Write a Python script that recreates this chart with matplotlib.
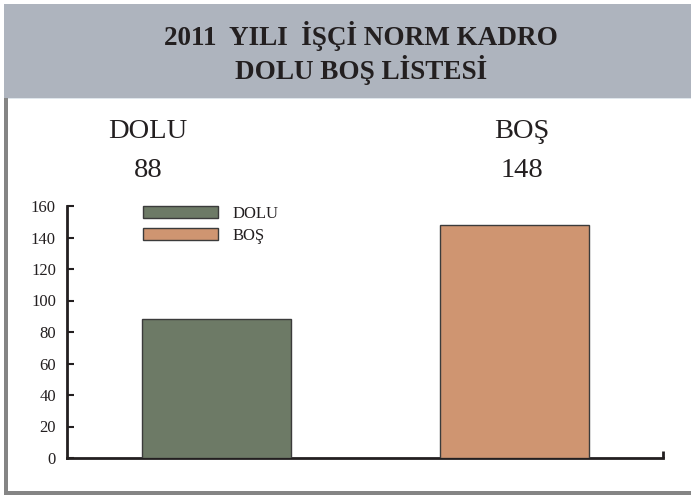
import matplotlib
matplotlib.use("Agg")
import matplotlib.pyplot as plt
from matplotlib.patches import Rectangle

categories = ["DOLU", "BOŞ"]
values = [88, 148]
bar_colors = ["#6d7a66", "#cf9571"]
yticks = [0, 20, 40, 60, 80, 100, 120, 140, 160]
title_lines = ["2011  YILI  İŞÇİ NORM KADRO", "DOLU BOŞ LİSTESİ"]

W, H = 691, 496
fig = plt.figure(figsize=(W / 100, H / 100), dpi=100)
fig.patch.set_facecolor("white")

def fx(px):
    return px / W

def fy(py):
    return 1 - py / H

serif = ["Liberation Serif", "DejaVu Serif"]

# header band
fig.patches.append(Rectangle((fx(4), fy(98)), 1 - fx(4), fy(4) - fy(98),
                             transform=fig.transFigure, facecolor="#aeb4be",
                             edgecolor="none", zorder=0))
fig.patches.append(Rectangle((fx(4), fy(99)), 1 - fx(4), fy(98) - fy(99),
                             transform=fig.transFigure, facecolor="#dfe6ec",
                             edgecolor="none", zorder=0))
# left border
fig.patches.append(Rectangle((fx(4), fy(495)), fx(8) - fx(4), fy(98) - fy(495),
                             transform=fig.transFigure, facecolor="#858585",
                             edgecolor="none", zorder=0))
# bottom border
fig.patches.append(Rectangle((fx(4), fy(495)), 1 - fx(4), fy(491) - fy(495),
                             transform=fig.transFigure, facecolor="#858585",
                             edgecolor="none", zorder=0))

fig.text(fx(361), fy(36), title_lines[0], ha="center", va="center",
         fontsize=19.5, fontweight="bold", family=serif, color="#231f20")
fig.text(fx(361), fy(70), title_lines[1], ha="center", va="center",
         fontsize=19.5, fontweight="bold", family=serif, color="#231f20")

# category labels and values above plot
label_x = [148, 522]
for cx, cat, val in zip(label_x, categories, values):
    fig.text(fx(cx), fy(138), cat, ha="center", va="baseline",
             fontsize=20.5, family=serif, color="#231f20")
    fig.text(fx(cx), fy(177), str(val), ha="center", va="baseline",
             fontsize=20.5, family=serif, color="#231f20")

ax = fig.add_axes([fx(67), fy(458), fx(663) - fx(67), fy(206) - fy(458)])
ax.set_facecolor("none")
xs = list(range(len(categories)))
bars = ax.bar(xs, values, width=0.5, color=bar_colors,
              edgecolor="#3b3b3b", linewidth=1.0, zorder=3)
ax.set_xlim(-0.5, 1.5)
ax.set_ylim(0, 160)
ax.set_yticks(yticks)
ax.set_yticklabels([str(t) for t in yticks], family=serif, fontsize=12,
                   color="#231f20")
ax.set_xticks([1.5])
ax.set_xticklabels([""])
ax.tick_params(axis="y", direction="in", length=5, width=1.5, color="#231f20",
               pad=8)
ax.tick_params(axis="x", direction="in", length=5, width=2, color="#231f20")
for s in ["top", "right"]:
    ax.spines[s].set_visible(False)
for s in ["left", "bottom"]:
    ax.spines[s].set_linewidth(2)
    ax.spines[s].set_color("#231f20")

leg = ax.legend(bars, categories, loc="upper left",
                bbox_to_anchor=(fx(143 - 67) / (fx(663) - fx(67)), 1.0),
                frameon=False, borderaxespad=0, borderpad=0,
                handlelength=4.5, handleheight=0.75, handletextpad=0.85,
                labelspacing=0.35, prop={"family": serif, "size": 12})
for t in leg.get_texts():
    t.set_color("#231f20")

fig.savefig("out.png", dpi=100, facecolor="white")
